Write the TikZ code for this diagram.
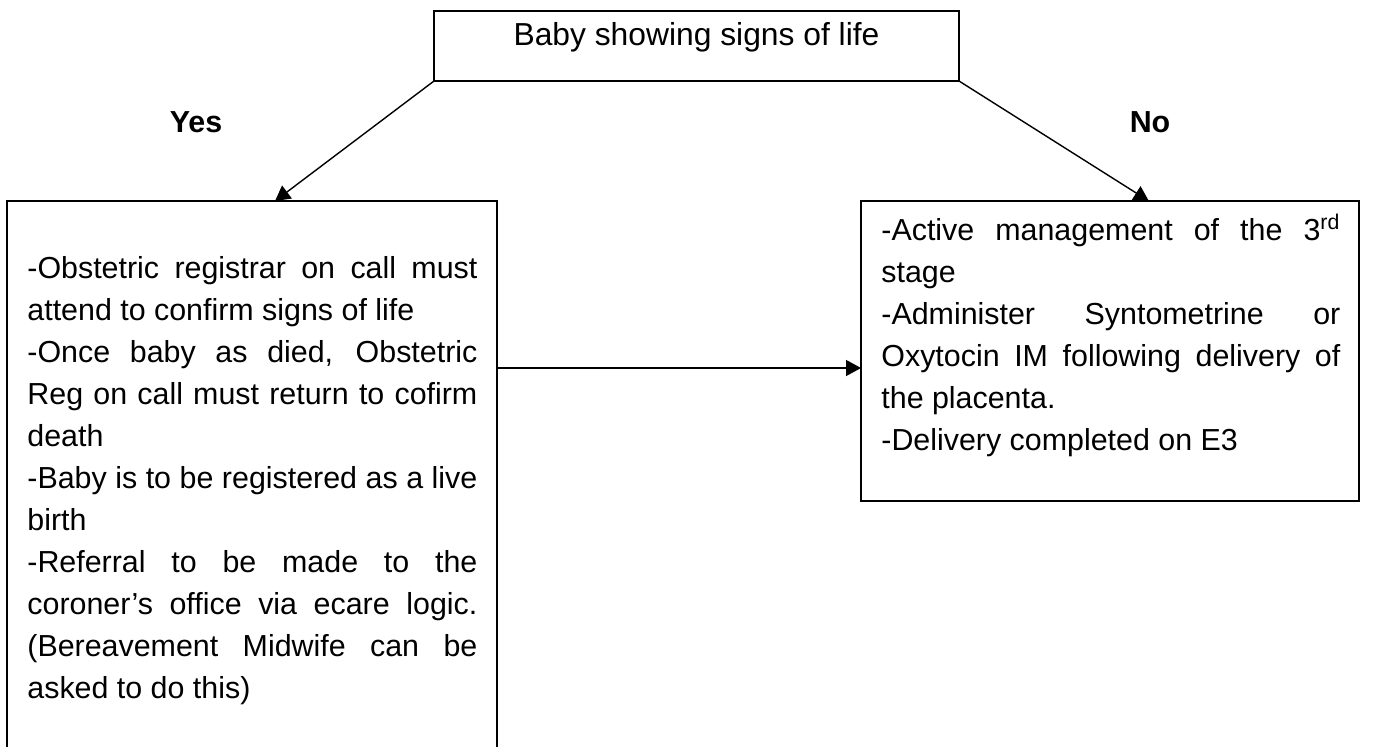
\documentclass[tikz,border=0pt]{standalone}
\usepackage{fontspec}
\setmainfont{Liberation Sans}
\usetikzlibrary{calc}
\usetikzlibrary{arrows.meta}
\usetikzlibrary{positioning}
\setlength{\parindent}{0pt}
\hyphenpenalty=10000
\exhyphenpenalty=10000
\hbadness=10000
\tikzset{
	flowbox/.style={
		draw,
		rectangle,
		line width=0.9pt,
		outer sep=0pt,
		anchor=north west,
	},
	boxtext/.style={
		anchor=north west,
		inner sep=0pt,
		align=justify,
		font=\fontsize{15.2}{21}\selectfont,
	},
	answer/.style={
		anchor=base,
		font=\fontsize{15.2}{21}\selectfont\bfseries,
	},
	conn/.style={
		line width=0.7pt,
		-{Triangle[length=7.5pt,width=8pt]}
	},
}

\begin{document}
\begin{tikzpicture}[x=0.5pt,y=-0.5pt]
		\useasboundingbox (0,0) rectangle (1390,746);
		\clip (0,0) rectangle (1390,746);

		\node[flowbox,minimum width=262.5pt,minimum height=35pt,
			font=\fontsize{15.9}{21}\selectfont,text height=11.5pt,text depth=12.5pt] (signs) at (434,11) {Baby showing signs of life};

		\node[answer] (yes) at (196,132) {Yes};
		\node[answer] (no) at (1150,132) {No};

		\node[flowbox,minimum width=245pt,minimum height=280pt] (yesbox) at (7,201) {};
		\node[flowbox,minimum width=249pt,minimum height=150pt] (nobox) at (861,201) {};

		% text inside the two boxes
		\node[boxtext,text width=225pt] (yestxt) at ($(yesbox.north west)+(20,47.6)$) {%
			\strut-Obstetric registrar on call must\linebreak attend to confirm signs of life\par
			-Once baby as died, Obstetric\linebreak Reg on call must return to cofirm\linebreak death\par
			-Baby is to be registered as a live\linebreak birth\par
			-Referral to be made to the\linebreak coroner’s office via ecare logic.\linebreak (Bereavement Midwife can be\linebreak asked to do this)\par};
		\node[boxtext,text width=229.5pt] (notxt) at ($(nobox.north west)+(20,9.6)$) {%
			\strut-Active management of the 3\smash{\textsuperscript{rd}}\linebreak stage\par
			-Administer Syntometrine or\linebreak Oxytocin IM following delivery of\linebreak the placenta.\par
			-Delivery completed on E3\par};

		\draw[conn] (signs.south west) -- ($(yesbox.north west)!0.547!(yesbox.north east)$);
		\draw[conn] (signs.south east) -- ($(nobox.north west)!0.578!(nobox.north east)$);
		\draw[conn] ($(nobox.west -| yesbox.east)+(0pt,-8.5pt)$) -- ($(nobox.west)+(0pt,-8.5pt)$);
%		\draw[conn] (yesbox.east) -- (nobox.west);

	\end{tikzpicture}
\end{document}
